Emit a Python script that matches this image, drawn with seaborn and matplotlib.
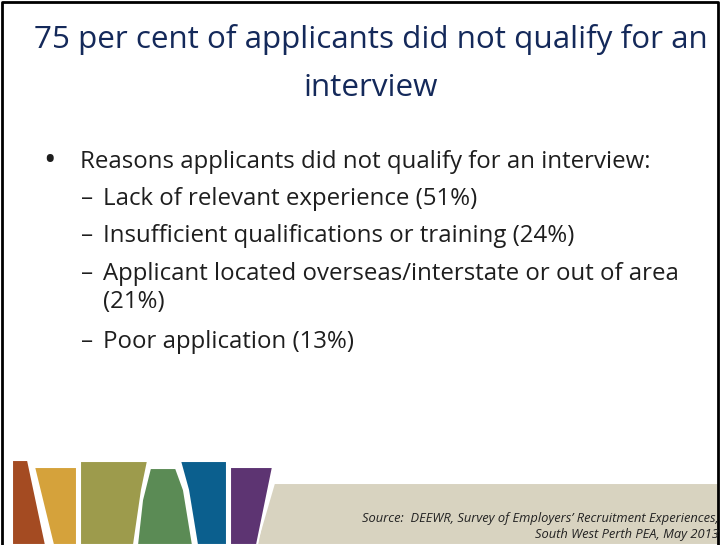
import matplotlib
matplotlib.use("Agg")
import matplotlib.pyplot as plt
from matplotlib.patches import Polygon
import seaborn as sns

# slide content
title_lines = ["75 per cent of applicants did not qualify for an", "interview"]
lead = "Reasons applicants did not qualify for an interview:"
reasons = ["Lack of relevant experience",
           "Insufficient qualifications or training",
           "Applicant located overseas/interstate or out of area",
           "Poor application"]
percents = [51, 24, 21, 13]
source_lines = ["Source:  DEEWR, Survey of Employers\u2019 Recruitment Experiences,",
                "South West Perth PEA, May 2013"]

sns.set_style("white")
plt.rcParams['font.family'] = ['Open Sans', 'DejaVu Sans']

fig = plt.figure(figsize=(7.2, 5.45), dpi=100)
ax = fig.add_axes([0, 0, 1, 1])
ax.set_xlim(0, 720)
ax.set_ylim(545, 0)
ax.axis("off")

navy = "#14295A"
body = "#1E1E1E"
fs = 17.3

# title
ax.text(370.5, 48, title_lines[0], ha="center", va="baseline", fontsize=22.6, color=navy)
ax.text(370.5, 96, title_lines[1], ha="center", va="baseline", fontsize=22.6, color=navy)

# bullet list
ax.text(49, 170, "\u2022", ha="center", va="baseline", fontsize=24, color=body)
ax.text(80, 168, lead, ha="left", va="baseline", fontsize=fs, color=body)
y = 205
for r, p in zip(reasons, percents):
    ax.text(81, y, "\u2013", ha="left", va="baseline", fontsize=fs, color=body)
    label = f"{r} ({p}%)"
    if len(label) > 50:
        ax.text(103, y, r, ha="left", va="baseline", fontsize=fs, color=body)
        y += 28
        ax.text(103, y, f"({p}%)", ha="left", va="baseline", fontsize=fs, color=body)
        y += 40
    else:
        ax.text(103, y, label, ha="left", va="baseline", fontsize=fs, color=body)
        y += 37.5

# footer decoration
shapes = [
    ("#D8D3C0", [(274, 483), (720, 483), (720, 545), (256, 545)]),
    ("#A44B22", [(12, 460), (28, 460), (46, 545), (12, 545)]),
    ("#D5A23B", [(34, 467), (77, 467), (77, 545), (53, 545)]),
    ("#9D9B4C", [(80, 461), (148, 461), (142, 490), (134, 545), (80, 545)]),
    ("#5B8B55", [(150, 468), (176, 468), (184, 490), (193, 545), (137, 545), (142, 500)]),
    ("#0B5F8E", [(180, 461), (227, 461), (227, 545), (197, 545), (188, 490)]),
    ("#5D3472", [(230, 467), (273, 467), (257, 545), (230, 545)]),
]
for color, pts in shapes:
    ax.add_patch(Polygon(pts, closed=True, facecolor=color, edgecolor="white", linewidth=1.5))

ax.text(719, 522, source_lines[0], ha="right", va="baseline", fontsize=9.3,
        style="italic", color="#222222")
ax.text(719, 538, source_lines[1], ha="right", va="baseline", fontsize=9.3,
        style="italic", color="#222222")

# slide border
ax.plot([2, 2, 718, 718], [545, 2, 2, 545], color="black", linewidth=2)

fig.savefig("out.png", dpi=100)
